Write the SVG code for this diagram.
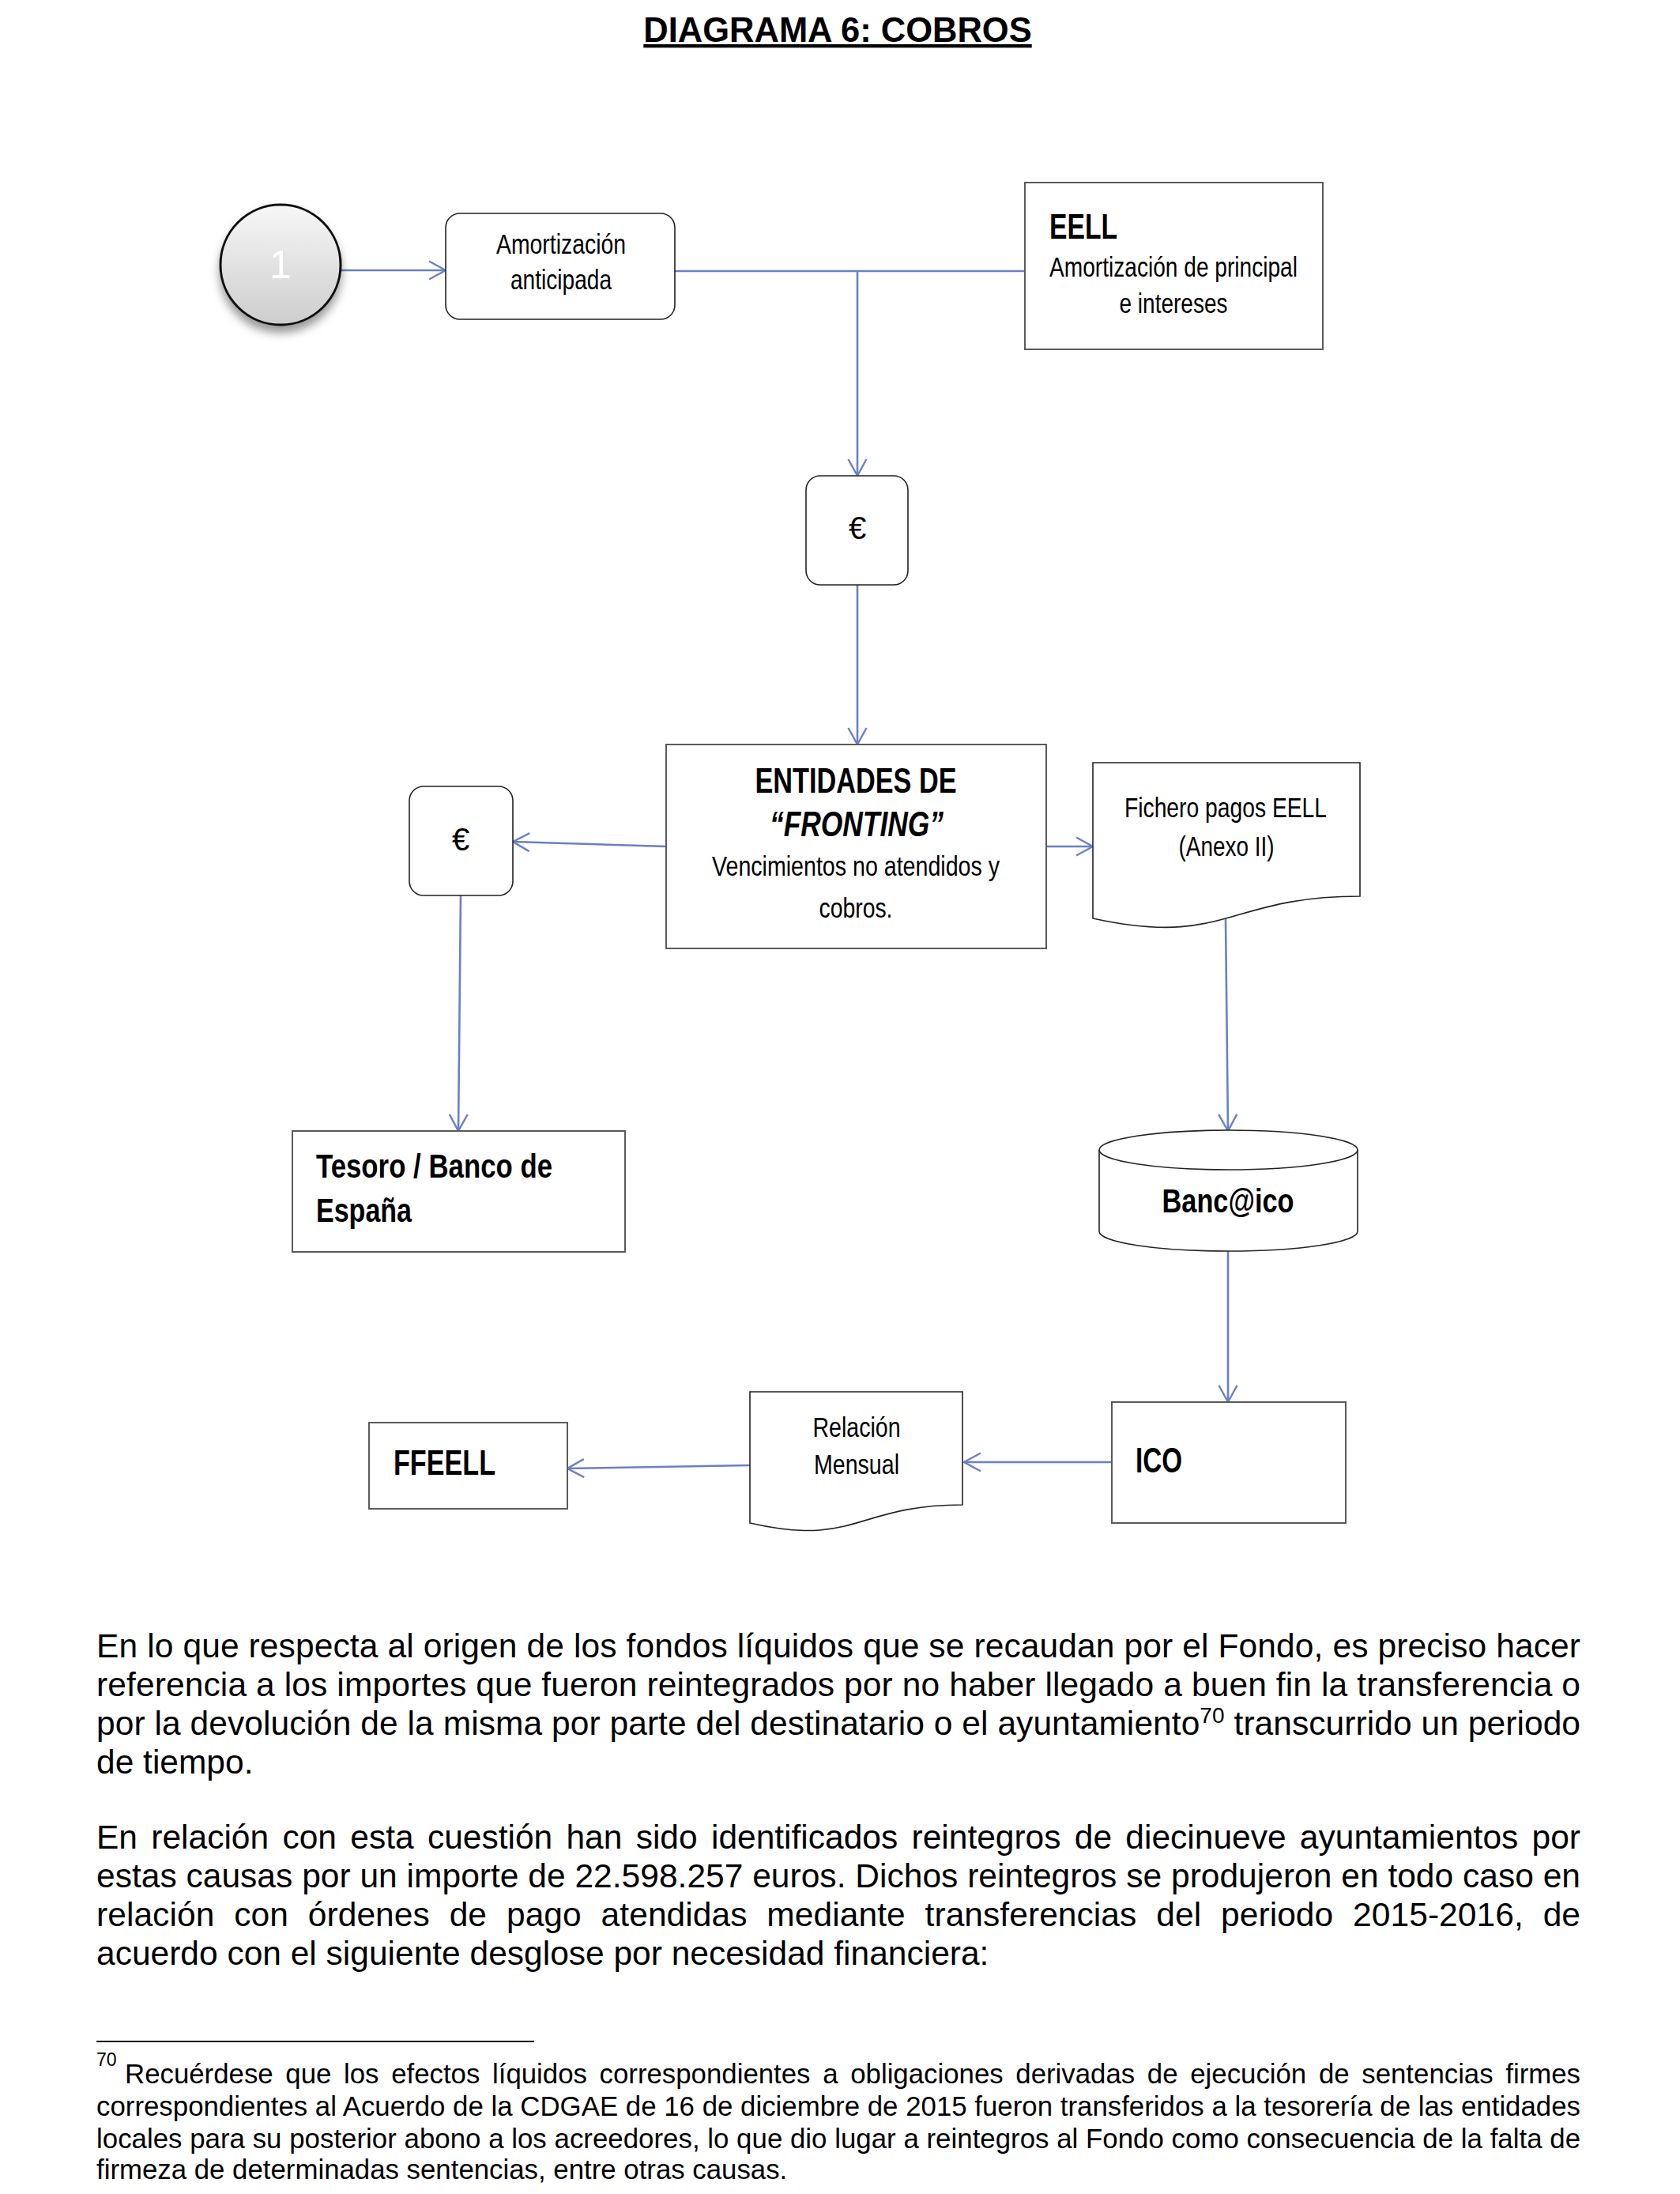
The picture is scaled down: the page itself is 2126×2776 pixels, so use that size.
<svg xmlns="http://www.w3.org/2000/svg" width="2126" height="2776" viewBox="0 0 2126 2776">
<style>
.t{font-family:"Liberation Sans",Arial,sans-serif;fill:#000}
.b{font-weight:bold}
.d{font-size:35px}
.h{font-size:45px;font-weight:bold}
.p{font-size:42.5px}
.f{font-size:34.8px}
.box{fill:#fff;stroke:#5a5a5a;stroke-width:2}
.rbox{fill:#fff;stroke:#222;stroke-width:1.6}
.conn{stroke:#6a80c4;stroke-width:2.6;fill:none;marker-end:url(#arr)}
.plain{stroke:#6a80c4;stroke-width:2.6;fill:none}
</style>
<defs>
<marker id="arr" viewBox="0 0 26 26" refX="23" refY="13" markerWidth="26" markerHeight="26" markerUnits="userSpaceOnUse" orient="auto">
<path d="M2,1.5 L23,13 L2,24.5" fill="none" stroke="#6a80c4" stroke-width="2.4"/>
</marker>
<linearGradient id="g1" x1="0" y1="0" x2="0" y2="1">
<stop offset="0" stop-color="#f7f7f7"/>
<stop offset="1" stop-color="#cdcdcd"/>
</linearGradient>
<filter id="sh" x="-30%" y="-30%" width="160%" height="170%">
<feDropShadow dx="0" dy="9" stdDeviation="6" flood-color="#000" flood-opacity="0.4"/>
</filter>
</defs>
<rect width="2126" height="2776" fill="#fff"/>

<text class="t b" x="1060" y="53" font-size="43.5" text-anchor="middle" text-decoration="underline">DIAGRAMA 6: COBROS</text>

<g id="connectors">
<path class="conn" d="M432,342 H564"/>
<path class="plain" d="M854,343 H1297"/>
<path class="conn" d="M1085,343 V602"/>
<path class="conn" d="M1085,740 V942"/>
<path class="conn" d="M843,1071 L649,1065"/>
<path class="conn" d="M1324,1071 H1383"/>
<path class="conn" d="M583,1133 L580,1431"/>
<path class="conn" d="M1551,1163 L1554,1431"/>
<path class="conn" d="M1554,1583 V1774"/>
<path class="conn" d="M1407,1850 H1220"/>
<path class="conn" d="M949,1854 L718,1858"/>
</g>

<g id="start">
<circle cx="355" cy="335" r="76" fill="url(#g1)" stroke="#111" stroke-width="3" filter="url(#sh)"/>
<text class="t" x="355" y="352" font-size="50" text-anchor="middle" style="fill:#fff">1</text>
</g>

<g id="amortizacion">
<rect class="rbox" x="564" y="270" width="290" height="134" rx="18"/>
<text class="t d" x="710" y="321" text-anchor="middle" textLength="164" lengthAdjust="spacingAndGlyphs">Amortización</text>
<text class="t d" x="710" y="366" text-anchor="middle" textLength="128" lengthAdjust="spacingAndGlyphs">anticipada</text>
</g>

<g id="eell">
<rect class="box" x="1297" y="231" width="377" height="211"/>
<text class="t h" x="1328" y="302" textLength="86" lengthAdjust="spacingAndGlyphs">EELL</text>
<text class="t d" x="1485" y="350" text-anchor="middle" textLength="314" lengthAdjust="spacingAndGlyphs">Amortización de principal</text>
<text class="t d" x="1485" y="396" text-anchor="middle" textLength="137" lengthAdjust="spacingAndGlyphs">e intereses</text>
</g>

<g id="euro1">
<rect class="rbox" x="1020" y="602" width="129" height="138" rx="18"/>
<text class="t" x="1085" y="682" font-size="40" text-anchor="middle">€</text>
</g>

<g id="fronting">
<rect class="box" x="843" y="942" width="481" height="258"/>
<text class="t h" x="1083" y="1003" text-anchor="middle" textLength="255" lengthAdjust="spacingAndGlyphs">ENTIDADES DE</text>
<text class="t h" x="1084" y="1058" text-anchor="middle" font-style="italic" textLength="220" lengthAdjust="spacingAndGlyphs">“FRONTING”</text>
<text class="t d" x="1083" y="1108" text-anchor="middle" textLength="364" lengthAdjust="spacingAndGlyphs">Vencimientos no atendidos y</text>
<text class="t d" x="1083" y="1161" text-anchor="middle" textLength="93" lengthAdjust="spacingAndGlyphs">cobros.</text>
</g>

<g id="euro2">
<rect class="rbox" x="518" y="995" width="131" height="138" rx="18"/>
<text class="t" x="583" y="1076" font-size="40" text-anchor="middle">€</text>
</g>

<g id="fichero">
<path class="rbox" d="M1383,965 H1721 V1134 C1552,1134 1552,1199 1383,1162 Z"/>
<text class="t d" x="1551" y="1034" text-anchor="middle" textLength="256" lengthAdjust="spacingAndGlyphs">Fichero pagos EELL</text>
<text class="t d" x="1552" y="1083" text-anchor="middle" textLength="121" lengthAdjust="spacingAndGlyphs">(Anexo II)</text>
</g>

<g id="tesoro">
<rect class="box" x="370" y="1431" width="421" height="153"/>
<text class="t b" x="400" y="1490" font-size="42" textLength="299" lengthAdjust="spacingAndGlyphs">Tesoro / Banco de</text>
<text class="t b" x="400" y="1546" font-size="42" textLength="121" lengthAdjust="spacingAndGlyphs">España</text>
</g>

<g id="bancaico">
<path class="rbox" d="M1391,1455 A163.5,25 0 0 1 1718,1455 V1558 A163.5,25 0 0 1 1391,1558 Z"/>
<path fill="none" stroke="#222" stroke-width="1.6" d="M1391,1455 A163.5,25 0 0 0 1718,1455"/>
<text class="t b" x="1554" y="1534" font-size="42" text-anchor="middle" textLength="167" lengthAdjust="spacingAndGlyphs">Banc@ico</text>
</g>

<g id="ico">
<rect class="box" x="1407" y="1774" width="296" height="153"/>
<text class="t h" x="1437" y="1863" textLength="59" lengthAdjust="spacingAndGlyphs">ICO</text>
</g>

<g id="relacion">
<path class="rbox" d="M949,1761 H1218 V1904 C1083.5,1904 1083.5,1958 949,1927 Z"/>
<text class="t d" x="1084" y="1818" text-anchor="middle" textLength="111" lengthAdjust="spacingAndGlyphs">Relación</text>
<text class="t d" x="1084" y="1865" text-anchor="middle" textLength="108" lengthAdjust="spacingAndGlyphs">Mensual</text>
</g>

<g id="ffeell">
<rect class="box" x="467" y="1800" width="251" height="109"/>
<text class="t h" x="498" y="1866" textLength="129" lengthAdjust="spacingAndGlyphs">FFEELL</text>
</g>

<g id="body">
<text class="t p" x="122" y="2097" textLength="1878" lengthAdjust="spacing">En lo que respecta al origen de los fondos líquidos que se recaudan por el Fondo, es preciso hacer</text>
<text class="t p" x="122" y="2146" textLength="1878" lengthAdjust="spacing">referencia a los importes que fueron reintegrados por no haber llegado a buen fin la transferencia o</text>
<text class="t p" x="122" y="2195" textLength="1878" lengthAdjust="spacing">por la devolución de la misma por parte del destinatario o el ayuntamiento<tspan font-size="28" dy="-15">70</tspan><tspan dy="15"> transcurrido un periodo</tspan></text>
<text class="t p" x="122" y="2244">de tiempo.</text>
<text class="t p" x="122" y="2339" word-spacing="5.5" textLength="1878" lengthAdjust="spacing">En relación con esta cuestión han sido identificados reintegros de diecinueve ayuntamientos por</text>
<text class="t p" x="122" y="2388" textLength="1878" lengthAdjust="spacing">estas causas por un importe de 22.598.257 euros. Dichos reintegros se produjeron en todo caso en</text>
<text class="t p" x="122" y="2437" word-spacing="13" textLength="1878" lengthAdjust="spacing">relación con órdenes de pago atendidas mediante transferencias del periodo 2015-2016, de</text>
<text class="t p" x="122" y="2486">acuerdo con el siguiente desglose por necesidad financiera:</text>
</g>

<g id="footnote">
<line x1="122" y1="2583" x2="676" y2="2583" stroke="#000" stroke-width="2"/>
<text class="t" x="122" y="2614" font-size="23">70</text>
<text class="t f" x="158" y="2636" word-spacing="6" textLength="1842" lengthAdjust="spacing">Recuérdese que los efectos líquidos correspondientes a obligaciones derivadas de ejecución de sentencias firmes</text>
<text class="t f" x="122" y="2677" textLength="1878" lengthAdjust="spacing">correspondientes al Acuerdo de la CDGAE de 16 de diciembre de 2015 fueron transferidos a la tesorería de las entidades</text>
<text class="t f" x="122" y="2718" textLength="1878" lengthAdjust="spacing">locales para su posterior abono a los acreedores, lo que dio lugar a reintegros al Fondo como consecuencia de la falta de</text>
<text class="t f" x="122" y="2757">firmeza de determinadas sentencias, entre otras causas.</text>
</g>
</svg>
